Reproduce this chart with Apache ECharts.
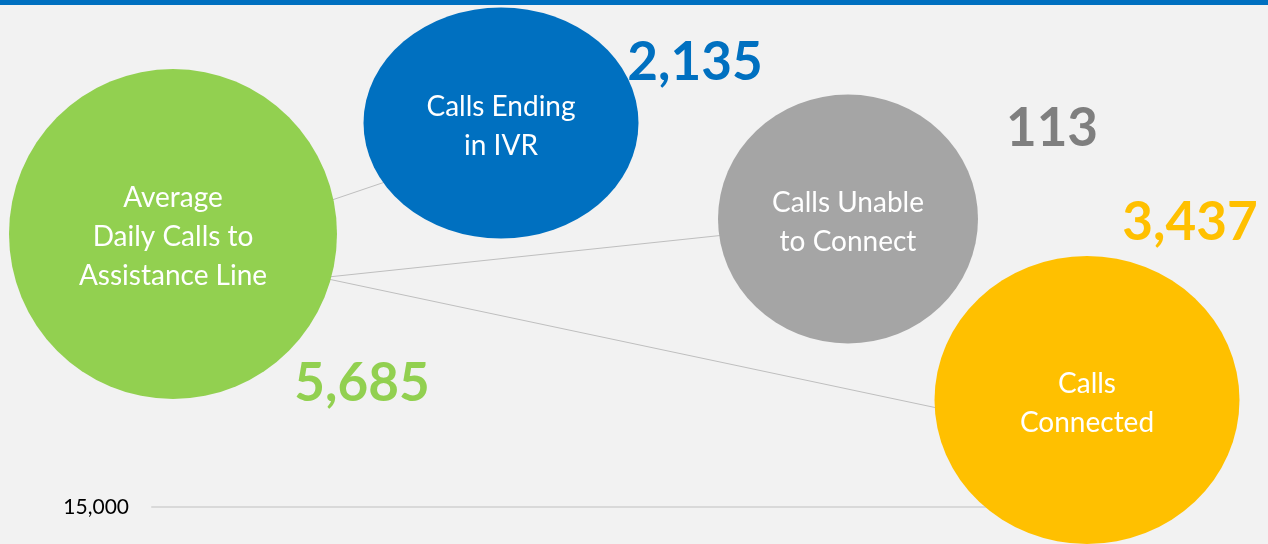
<!DOCTYPE html>
<html>
<head>
<meta charset="utf-8">
<script src="https://cdn.jsdelivr.net/npm/echarts@6/dist/echarts.min.js"></script>
<style>
html,body{margin:0;padding:0;background:#f2f2f2;}
#chart{width:1268px;height:544px;}
</style>
</head>
<body>
<div id="chart"></div>
<script>
// ---- data ----
const categories = ['Average\nDaily Calls to\nAssistance Line', 'Calls Ending\nin IVR', 'Calls Unable\nto Connect', 'Calls\nConnected'];
const values = [5685, 2135, 113, 3437];
const xPos = [21, 349, 696, 935];
const yPos = [15273, 15384, 15288, 15107];
const yTickLabels = ['15,000'];
const connFromX = [177, 176, 176];
const connFromY = [15306, 15230, 15228];
const connToX = [236, 573, 790];
const connToY = [15326, 15272, 15098];

// ---- styles ----
const bubbleColors = ['#92d050', '#0070c0', '#a5a5a5', '#ffc000'];
const valueColors = ['#92d050', '#0070c0', '#7f7f7f', '#ffc000'];
const bubbleSizes = [[328, 330], [275, 231], [260, 249], [305, 288]];
const valueOffsets = [[189, 150], [194, -60], [204, -90], [103, -177]];
const FONT = 'Lato';

const fmt = v => v.toLocaleString('en-US');

const chart = echarts.init(document.getElementById('chart'), null, {renderer: 'canvas'});

const bubbleData = categories.map((c, i) => ({
  name: c,
  value: [xPos[i], yPos[i], values[i]],
  symbolSize: bubbleSizes[i],
  itemStyle: {color: bubbleColors[i], opacity: 1}
}));

const valueData = categories.map((c, i) => ({
  name: c,
  value: [xPos[i], yPos[i], values[i]],
  label: {offset: valueOffsets[i], color: valueColors[i]}
}));

const connectorData = connFromX.map((x, i) => ({
  coords: [[x, connFromY[i]], [connToX[i], connToY[i]]]
}));

chart.setOption({
  backgroundColor: '#f2f2f2',
  animation: false,
  grid: {left: 152, top: 7, bottom: 37, width: 1000, containLabel: false},
  xAxis: {
    type: 'value', min: 0, max: 1000,
    axisLine: {show: true, lineStyle: {color: '#d9d9d9', width: 2}},
    axisTick: {show: false}, axisLabel: {show: false}, splitLine: {show: false}
  },
  yAxis: {
    type: 'value', min: 15000, max: 15500, interval: 500,
    axisLine: {show: false}, axisTick: {show: false}, splitLine: {show: false},
    axisLabel: {
      margin: 23, color: '#000', fontFamily: FONT, fontSize: 21,
      formatter: v => (v === 15000 ? yTickLabels[0] : '')
    }
  },
  graphic: [{
    type: 'rect', left: 0, top: 0, z: 100,
    shape: {width: 1268, height: 5},
    style: {fill: '#0070c0'}
  }],
  series: [
    {
      type: 'lines', coordinateSystem: 'cartesian2d', z: 1,
      lineStyle: {color: '#bfbfbf', width: 1, opacity: 1},
      data: connectorData
    },
    {
      type: 'scatter', z: 2, clip: false,
      symbol: 'circle',
      itemStyle: {opacity: 1},
      label: {
        show: true, position: 'inside', color: '#fff', offset: [0, 3],
        fontFamily: FONT, fontSize: 28, lineHeight: 39,
        formatter: p => p.name
      },
      emphasis: {disabled: true},
      data: bubbleData
    },
    {
      type: 'scatter', z: 3, clip: false,
      symbolSize: 0,
      itemStyle: {opacity: 1},
      label: {
        show: true, position: 'inside', opacity: 1,
        fontFamily: FONT, fontWeight: 'bold', fontSize: 53,
        formatter: p => fmt(p.value[2])
      },
      emphasis: {disabled: true},
      data: valueData
    }
  ]
});
</script>
</body>
</html>
